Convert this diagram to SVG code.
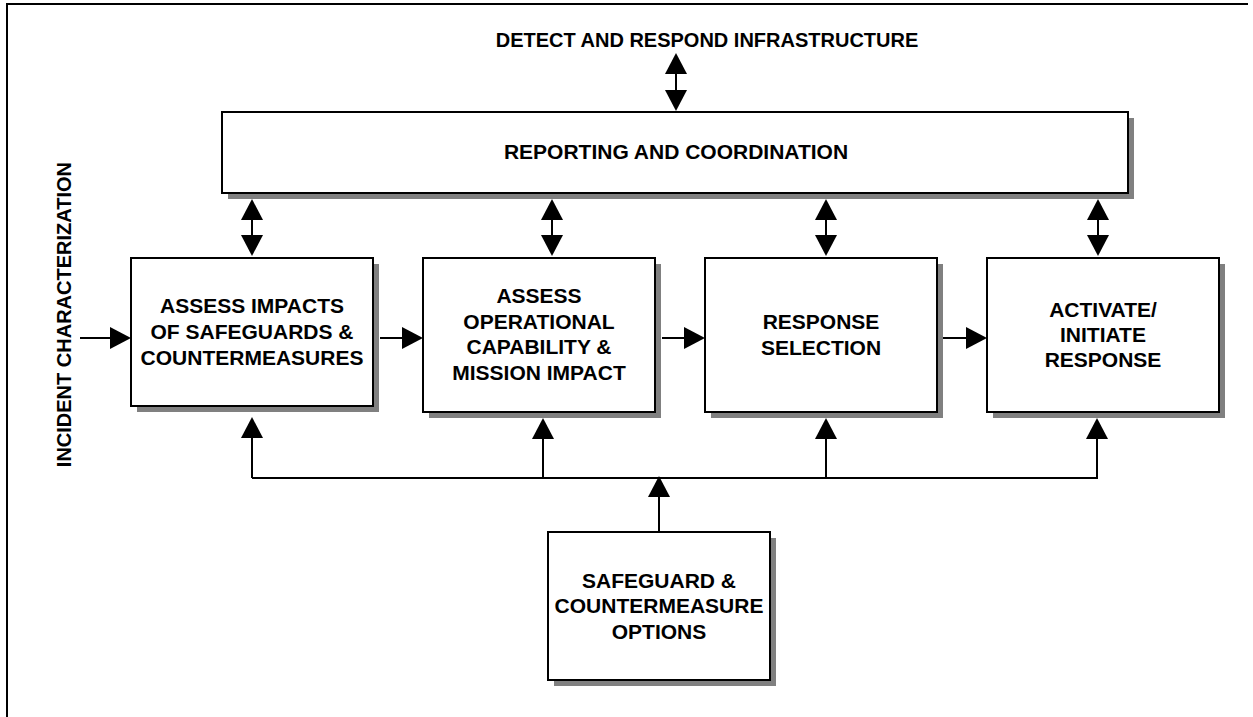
<svg xmlns="http://www.w3.org/2000/svg" width="1253" height="717" viewBox="0 0 1253 717">
<style>
  .box{fill:#fff;stroke:#000;stroke-width:2}
  .shadow{fill:#808080}
  .t{font-family:"Liberation Sans",Arial,sans-serif;font-weight:bold;font-size:21px;fill:#000;text-anchor:middle}
  .c{fill:none;stroke:#000;stroke-width:2}
  .a{fill:none;stroke:#000;stroke-width:2;marker-end:url(#ah)}
  .d{fill:none;stroke:#000;stroke-width:2;marker-end:url(#ah);marker-start:url(#ah)}
</style>
<defs>
  <marker id="ah" viewBox="0 0 21 22" refX="18" refY="11" markerWidth="21" markerHeight="22" markerUnits="userSpaceOnUse" orient="auto-start-reverse">
    <path d="M0,0 L21,11 L0,22 z" fill="#000"/>
  </marker>
</defs>
<rect width="1253" height="717" fill="#fff"/>
<path d="M7,717 L7,4 L1248,4" fill="none" stroke="#000" stroke-width="2"/>

<g id="label-top">
  <text class="t" style="font-size:20px" x="707" y="47">DETECT AND RESPOND INFRASTRUCTURE</text>
</g>
<g id="label-left">
  <text class="t" style="font-size:20px;text-anchor:end" transform="translate(71,162) rotate(-90)">INCIDENT CHARACTERIZATION</text>
</g>

<g id="reporting">
  <rect class="shadow" x="228" y="118" width="906" height="81"/>
  <rect class="box" x="222" y="112" width="906" height="81"/>
  <text class="t" x="676" y="159">REPORTING AND COORDINATION</text>
</g>

<g id="assess-impacts">
  <rect class="shadow" x="137" y="264" width="242" height="148"/>
  <rect class="box" x="131" y="258" width="242" height="148"/>
  <text class="t" x="252" y="313">ASSESS IMPACTS</text>
  <text class="t" x="252" y="339">OF SAFEGUARDS &amp;</text>
  <text class="t" x="252" y="365">COUNTERMEASURES</text>
</g>

<g id="assess-operational">
  <rect class="shadow" x="429" y="264" width="232" height="154"/>
  <rect class="box" x="423" y="258" width="232" height="154"/>
  <text class="t" x="539" y="303">ASSESS</text>
  <text class="t" x="539" y="329">OPERATIONAL</text>
  <text class="t" x="539" y="354">CAPABILITY &amp;</text>
  <text class="t" x="539" y="380">MISSION IMPACT</text>
</g>

<g id="response-selection">
  <rect class="shadow" x="711" y="264" width="232" height="154"/>
  <rect class="box" x="705" y="258" width="232" height="154"/>
  <text class="t" x="821" y="329">RESPONSE</text>
  <text class="t" x="821" y="355">SELECTION</text>
</g>

<g id="activate-response">
  <rect class="shadow" x="993" y="264" width="232" height="154"/>
  <rect class="box" x="987" y="258" width="232" height="154"/>
  <text class="t" x="1103" y="317">ACTIVATE/</text>
  <text class="t" x="1103" y="342">INITIATE</text>
  <text class="t" x="1103" y="367">RESPONSE</text>
</g>

<g id="safeguard-options">
  <rect class="shadow" x="554" y="538" width="222" height="148"/>
  <rect class="box" x="548" y="532" width="222" height="148"/>
  <text class="t" x="659" y="588">SAFEGUARD &amp;</text>
  <text class="t" x="659" y="613">COUNTERMEASURE</text>
  <text class="t" x="659" y="639">OPTIONS</text>
</g>

<g id="connectors">
  <path class="d" d="M676,56 L676,108"/>
  <path class="d" d="M252,202 L252,253"/>
  <path class="d" d="M552,202 L552,253"/>
  <path class="d" d="M826,202 L826,253"/>
  <path class="d" d="M1098,202 L1098,253"/>
  <path class="a" d="M80,338 L128,338"/>
  <path class="a" d="M380,338 L420,338"/>
  <path class="a" d="M662,338 L702,338"/>
  <path class="a" d="M943,338 L984,338"/>
  <path class="c" d="M252,478 L1098,478"/>
  <path class="a" d="M252,478 L252,420"/>
  <path class="a" d="M543,478 L543,421"/>
  <path class="a" d="M826,478 L826,421"/>
  <path class="a" d="M1097,478 L1097,421"/>
  <path class="a" d="M659,532 L659,479"/>
</g>
</svg>
